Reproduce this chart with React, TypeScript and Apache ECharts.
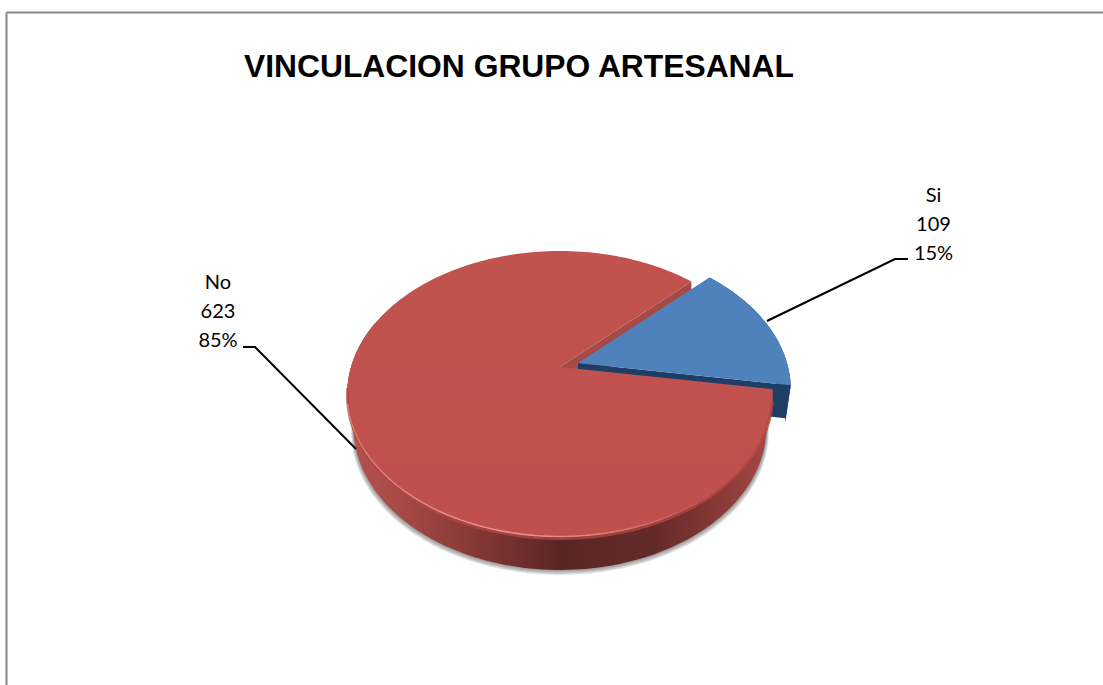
import React, { useEffect, useRef } from "react";
import * as echarts from "echarts";

const titleText = "VINCULACION GRUPO ARTESANAL";
const categories = ["Si", "No"];
const seriesValues = [109, 623];
const percentLabels = ["15%", "85%"];

const CX = 560, APEX_Y = 367, KX = 209, KA = 68.6, KC = -0.1888, DEPTH = 33;
const FIRST_ANGLE = -44.6;
const EXPLODE = [18, -4];
const toRad = (d: number) => (d * Math.PI) / 180;
const rim = (deg: number): number[] => {
  const s = Math.sin(toRad(deg)), c = Math.cos(toRad(deg));
  const den = 1 + KC * s;
  return [CX + (KX * c) / den, (KA * s + APEX_Y) / den];
};
const arc = (from: number, to: number, dx = 0, dy = 0, sx = 1): number[][] => {
  const pts: number[][] = [];
  const n = Math.max(2, Math.ceil(Math.abs(to - from) / 1.5));
  for (let i = 0; i <= n; i++) {
    const p = rim(from + ((to - from) * i) / n);
    pts.push([CX + (p[0] - CX) * sx + dx, p[1] + dy]);
  }
  return pts;
};
const total = seriesValues.reduce((a, b) => a + b, 0);

function renderItem(params: any, api: any) {
  const idx = params.dataIndex;
  const before = seriesValues.slice(0, idx).reduce((a, b) => a + b, 0);
  const start = FIRST_ANGLE + (before / total) * 360;
  const end = start + (api.value(0) / total) * 360;
  const children: any[] = [];
  if (idx === 0) {
    const [ex, ey] = EXPLODE;
    const apex = [CX + ex, APEX_Y + ey];
    const endPt = rim(end);
    for (let k = 3; k >= 1; k--) {
      children.push({
        type: "polygon", z2: 0,
        shape: { points: [...arc(Math.max(start, 0), end, ex, ey + 36 + k, 0.972 + k * 0.001), ...arc(end, Math.max(start, 0), ex, ey, 0.97)] },
        style: { fill: "rgba(60,60,60,0.12)" },
      });
    }
    children.push({
      type: "polygon", z2: 3,
      shape: { points: [...arc(start, end, ex, ey), ...arc(end, start, ex, ey + 37, 0.975)] },
      style: { fill: "#1F3E66" },
    });
    children.push({
      type: "polygon", z2: 3,
      shape: { points: [apex, [endPt[0] + ex, endPt[1] + ey], [endPt[0] + ex - 5, endPt[1] + ey + DEPTH], [apex[0], apex[1] + DEPTH]] },
      style: { fill: "#1F3E66" },
    });
    children.push({
      type: "polygon", z2: 4,
      shape: { points: [apex, ...arc(start, end, ex, ey)] },
      style: { fill: "#4F81BD" },
    });
  } else {
    const wallEnd = Math.min(end, 200);
    const endPt = rim(end);
    for (let k = 5; k >= 1; k--) {
      children.push({
        type: "polygon", z2: 0,
        shape: { points: [...arc(start, wallEnd, 0, DEPTH + k, 0.97 + k * 0.0022), ...arc(wallEnd, start)] },
        style: { fill: "rgba(70,70,70,0.13)" },
      });
    }
    children.push({
      type: "polygon", z2: 1,
      shape: { points: [...arc(start, wallEnd), ...arc(wallEnd, start, 0, DEPTH, 0.97)] },
      style: {
        fill: new echarts.graphic.LinearGradient(0, 0, 1, 0, [
          { offset: 0, color: "#B5514E" },
          { offset: 0.12, color: "#A84A47" },
          { offset: 0.3, color: "#853836" },
          { offset: 0.5, color: "#5A2624" },
          { offset: 0.72, color: "#632A28" },
          { offset: 0.88, color: "#8A3A38" },
          { offset: 1, color: "#A84946" },
        ]),
      },
    });
    children.push({
      type: "polygon", z2: 2,
      shape: { points: [[CX, APEX_Y], endPt, [endPt[0], endPt[1] + DEPTH], [CX, APEX_Y + DEPTH]] },
      style: { fill: "#A64A47" },
    });
    children.push({
      type: "polygon", z2: 5,
      shape: { points: [[CX, APEX_Y], ...arc(start, end)] },
      style: {
        fill: new echarts.graphic.LinearGradient(0, 0, 0, 1, [
          { offset: 0, color: "#C1534F" },
          { offset: 1, color: "#C0504D" },
        ]),
      },
    });
    children.push({
      type: "polyline", z2: 6,
      shape: { points: arc(start + 4, 172, 0, 1.5, 0.998) },
      style: { fill: "none", stroke: "rgba(176,70,68,0.8)", lineWidth: 3 },
    });
    children.push({
      type: "polyline", z2: 7,
      shape: { points: arc(55, 165, 0, -0.5) },
      style: {
        fill: "none", lineWidth: 1.5,
        stroke: new echarts.graphic.LinearGradient(0, 0, 1, 0, [
          { offset: 0, color: "rgba(240,165,155,0.5)" },
          { offset: 0.45, color: "rgba(240,165,155,0.85)" },
          { offset: 0.75, color: "rgba(240,165,155,0.5)" },
          { offset: 1, color: "rgba(240,165,155,0)" },
        ]),
      },
    });
  }
  return { type: "group", children };
}

export default function App() {
  const ref = useRef<HTMLDivElement>(null);
  useEffect(() => {
    const chart = echarts.init(ref.current!, undefined, { renderer: "svg" });
    chart.setOption({
      animation: false,
      backgroundColor: "#FFFFFF",
      title: {
        text: titleText, left: 239, top: 45,
        textStyle: { fontFamily: "Liberation Sans", fontWeight: "bold", fontSize: 31.8, color: "#000000" },
      },
      graphic: [
        { type: "line", shape: { x1: 6.5, y1: 12.5, x2: 1103, y2: 12.5 }, style: { stroke: "#868686", lineWidth: 2 } },
        { type: "line", shape: { x1: 6.5, y1: 12.5, x2: 6.5, y2: 685 }, style: { stroke: "#868686", lineWidth: 2 } },
        { type: "polyline", z: 10, shape: { points: [[243, 347], [255, 347], [356, 449]] }, style: { fill: "none", stroke: "#000000", lineWidth: 2 } },
        { type: "polyline", z: 10, shape: { points: [[908, 259], [895, 259], [767, 321]] }, style: { fill: "none", stroke: "#000000", lineWidth: 2 } },
        {
          type: "text", x: 218, y: 266, z: 10,
          style: { text: `${categories[1]}\n${seriesValues[1]}\n${percentLabels[1]}`, fontFamily: "Lato", fontSize: 20, lineHeight: 29, fill: "#000000", align: "center" },
        },
        {
          type: "text", x: 933.5, y: 179, z: 10,
          style: { text: `${categories[0]}\n${seriesValues[0]}\n${percentLabels[0]}`, fontFamily: "Lato", fontSize: 20, lineHeight: 29, fill: "#000000", align: "center" },
        },
      ],
      series: [
        {
          type: "custom", coordinateSystem: "none", renderItem, silent: true,
          data: seriesValues.map((v) => [v]),
        },
      ],
    });
    return () => chart.dispose();
  }, []);
  return <div ref={ref} style={{ position: "absolute", left: 0, top: 0, width: 1103, height: 685 }} />;
}
